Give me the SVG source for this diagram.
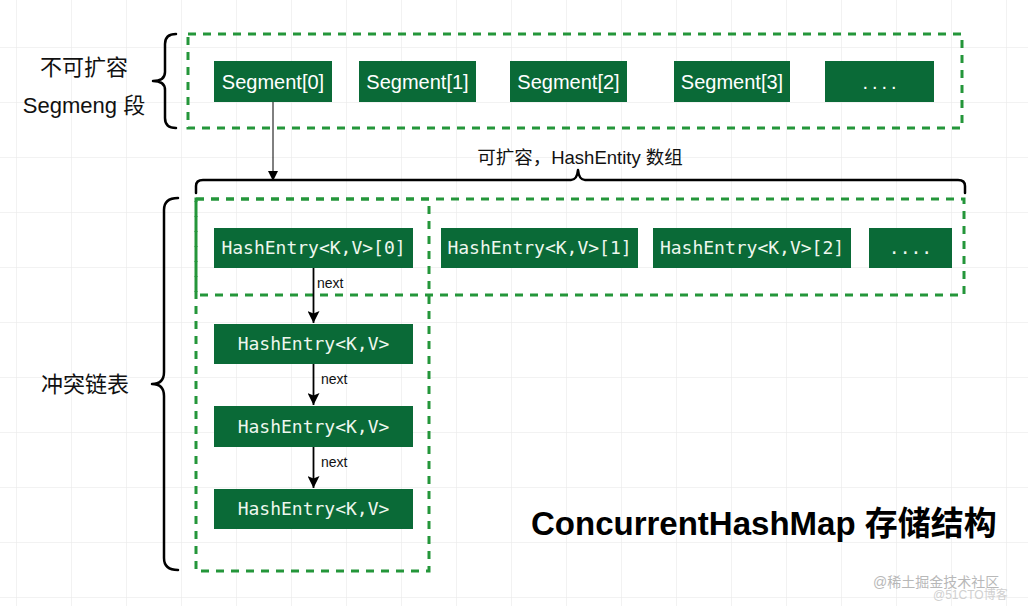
<svg xmlns="http://www.w3.org/2000/svg" width="1028" height="606" viewBox="0 0 1028 606">
  <defs>
    <pattern id="grid" x="16" y="47" width="55" height="55" patternUnits="userSpaceOnUse">
      <path d="M0 0H55M0 0V55" fill="none" stroke="#e6e6e6" stroke-width="1"/>
    </pattern>
    <marker id="arrow" viewBox="0 0 10 10" refX="10" refY="5" markerWidth="10" markerHeight="10" markerUnits="userSpaceOnUse" orient="auto">
      <path d="M0 0L10 5L0 10Z" fill="#000"/>
    </marker>
    <marker id="arrowBig" viewBox="0 0 10 10" refX="10" refY="5" markerWidth="14" markerHeight="12" markerUnits="userSpaceOnUse" orient="auto">
      <path d="M0 0L10 5L0 10L2 5Z" fill="#000"/>
    </marker>
  </defs>
  <style>
    .node { fill: #0a6a37; }
    .seg { font-family: "Liberation Sans", Arial, sans-serif; font-size: 20px; fill: #ffffff; text-anchor: middle; }
    .he { font-family: "DejaVu Sans Mono", "Liberation Mono", monospace; font-size: 18px; fill: #eef7ee; text-anchor: middle; }
    .dots { letter-spacing: 4px; }
    .dash { fill: none; stroke: #24963a; stroke-width: 3; stroke-dasharray: 8 7; }
    .brace { fill: none; stroke: #000; stroke-width: 2.5; stroke-linecap: round; stroke-linejoin: round; }
    .lbl { font-family: "Liberation Sans", "Noto Sans CJK SC", sans-serif; font-size: 22px; fill: #111; text-anchor: middle; }
    .small { font-family: "Liberation Sans", "Noto Sans CJK SC", sans-serif; font-size: 14px; fill: #111; }
    .edge { fill: none; stroke: #000; stroke-width: 1.8; }
  </style>
  <rect width="1028" height="606" fill="#ffffff"/>
  <rect width="1028" height="606" fill="url(#grid)"/>

  <!-- containers -->
  <g id="segment-container">
    <rect class="dash" x="188" y="34" width="774" height="94"/>
  </g>
  <g id="entry-row-container">
    <rect class="dash" x="196" y="199" width="768" height="96"/>
  </g>
  <g id="chain-container">
    <rect class="dash" x="196" y="199" width="233" height="372"/>
  </g>

  <!-- braces -->
  <g id="brace-segments">
    <path class="brace" d="M176 34 Q165 34 165 44 V72 Q165 81 153 81 Q165 81 165 90 V118 Q165 128 176 128"/>
  </g>
  <g id="brace-array">
    <path class="brace" d="M196 193 V186 Q196 180 203 180 H571 Q577 180 578 170 Q579 180 585 180 H958 Q965 180 965 186 V193"/>
  </g>
  <g id="brace-chain">
    <path class="brace" d="M178 198 Q164 198 164 210 V372 Q164 384 152 384 Q164 384 164 396 V558 Q164 570 178 570"/>
  </g>

  <!-- labels -->
  <g id="label-fixed">
    <text class="lbl" x="84" y="75">不可扩容</text>
    <text class="lbl" x="84" y="113">Segmeng 段</text>
  </g>
  <g id="label-chain">
    <text class="lbl" x="85" y="392">冲突链表</text>
  </g>
  <g id="label-array">
    <text class="lbl" x="580" y="164" style="font-size:18.5px">可扩容，HashEntity 数组</text>
  </g>
  <g id="title">
    <text x="531" y="535" style="font-family:'Liberation Sans','Noto Sans CJK SC',sans-serif;font-size:33px;font-weight:bold;fill:#000">ConcurrentHashMap 存储结构</text>
  </g>
  <g id="watermark">
    <text x="873" y="587" style="font-family:'Liberation Sans','Noto Sans CJK SC',sans-serif;font-size:14px;fill:#b8b8b8">@稀土掘金技术社区</text>
    <text x="933" y="599" style="font-family:'Liberation Sans','Noto Sans CJK SC',sans-serif;font-size:12px;fill:#d0d0d0">@51CTO博客</text>
  </g>

  <!-- segments -->
  <g id="segment-0"><rect class="node" x="214" y="61" width="118" height="41"/><text class="seg" x="273" y="89">Segment[0]</text></g>
  <g id="segment-1"><rect class="node" x="359" y="61" width="117" height="41"/><text class="seg" x="417.5" y="89">Segment[1]</text></g>
  <g id="segment-2"><rect class="node" x="510" y="61" width="117" height="41"/><text class="seg" x="568.5" y="89">Segment[2]</text></g>
  <g id="segment-3"><rect class="node" x="674" y="61" width="116" height="41"/><text class="seg" x="732" y="89">Segment[3]</text></g>
  <g id="segment-more"><rect class="node" x="825" y="61" width="109" height="41"/><text class="seg dots" x="881.5" y="89">....</text></g>

  <!-- hash entries row -->
  <g id="entry-0"><rect class="node" x="214" y="228" width="199" height="40"/><text class="he" x="313.5" y="254">HashEntry&lt;K,V&gt;[0]</text></g>
  <g id="entry-1"><rect class="node" x="441" y="228" width="197" height="40"/><text class="he" x="539.5" y="254">HashEntry&lt;K,V&gt;[1]</text></g>
  <g id="entry-2"><rect class="node" x="653" y="228" width="198" height="40"/><text class="he" x="752" y="254">HashEntry&lt;K,V&gt;[2]</text></g>
  <g id="entry-more"><rect class="node" x="869" y="228" width="83" height="40"/><text class="he" x="910.5" y="254">....</text></g>

  <!-- chain -->
  <g id="chain-1"><rect class="node" x="214" y="324" width="199" height="40"/><text class="he" x="313.5" y="350">HashEntry&lt;K,V&gt;</text></g>
  <g id="chain-2"><rect class="node" x="214" y="406" width="199" height="41"/><text class="he" x="313.5" y="433">HashEntry&lt;K,V&gt;</text></g>
  <g id="chain-3"><rect class="node" x="214" y="489" width="199" height="40"/><text class="he" x="313.5" y="515">HashEntry&lt;K,V&gt;</text></g>

  <!-- connectors -->
  <g id="connectors">
    <line class="edge" x1="273" y1="102" x2="273" y2="181" style="stroke-width:1" marker-end="url(#arrow)"/>
    <line class="edge" x1="313.5" y1="268" x2="313.5" y2="323" marker-end="url(#arrowBig)"/>
    <line class="edge" x1="313.5" y1="364" x2="313.5" y2="405" marker-end="url(#arrowBig)"/>
    <line class="edge" x1="313.5" y1="447" x2="313.5" y2="488" marker-end="url(#arrowBig)"/>
    <text class="small" x="317" y="288">next</text>
    <text class="small" x="321" y="384">next</text>
    <text class="small" x="321" y="467">next</text>
  </g>
</svg>
